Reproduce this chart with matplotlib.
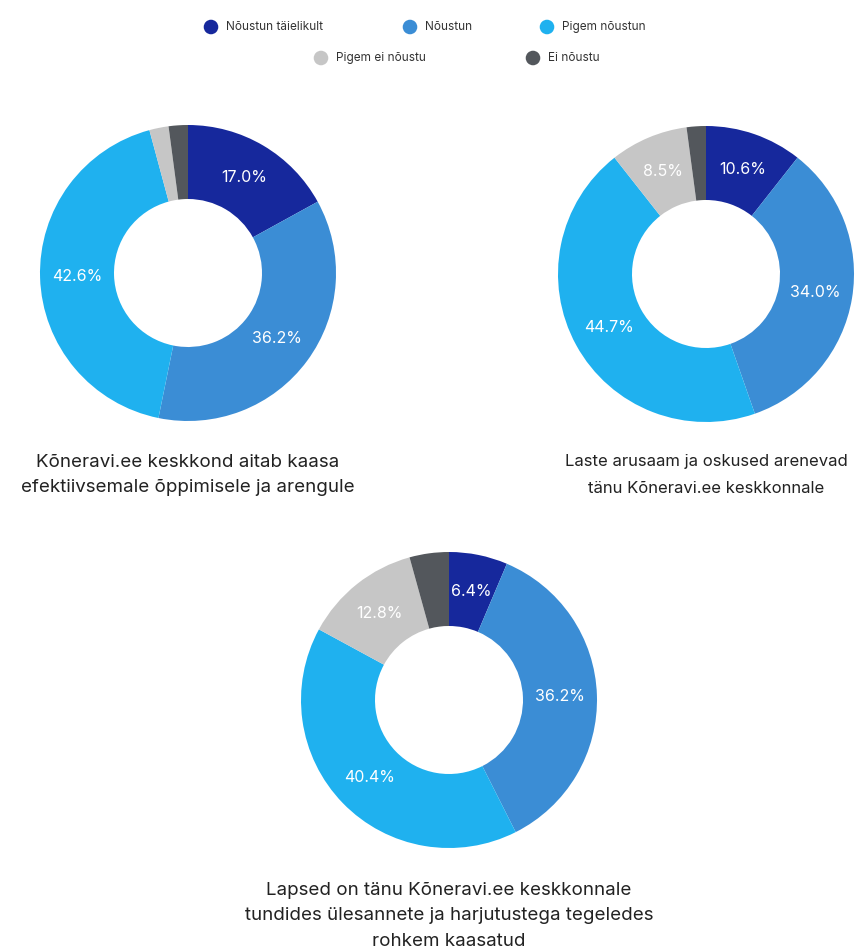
import matplotlib
matplotlib.use("Agg")
import matplotlib.pyplot as plt
import numpy as np

plt.rcParams['font.family'] = ['Inter', 'DejaVu Sans']

categories = ["Nõustun täielikult", "Nõustun", "Pigem nõustun", "Pigem ei nõustu", "Ei nõustu"]
colors = ["#16289c", "#3b8dd5", "#1fb1ef", "#c6c6c6", "#53575c"]

chart1_values = [17.0, 36.2, 42.6, 2.1, 2.1]
chart2_values = [10.6, 34.0, 44.7, 8.5, 2.1]
chart3_values = [6.4, 36.2, 40.4, 12.8, 4.3]

titles = [
    "Kõneravi.ee keskkond aitab kaasa\nefektiivsemale õppimisele ja arengule",
    "Laste arusaam ja oskused arenevad\ntänu Kõneravi.ee keskkonnale",
    "Lapsed on tänu Kõneravi.ee keskkonnale\ntundides ülesannete ja harjutustega tegeledes\nrohkem kaasatud",
]

W, H = 867, 952
fig = plt.figure(figsize=(W / 100, H / 100), dpi=100)

R = 148
centers = [(188, 273), (706, 274), (449, 700)]
title_cy = [475, 475, 916]
title_fs = [13.5, 12.0, 13.5]
all_values = [chart1_values, chart2_values, chart3_values]

for (cx, cy), vals, title, ty, fs in zip(centers, all_values, titles, title_cy, title_fs):
    ax = fig.add_axes([(cx - R) / W, 1 - (cy + R) / H, 2 * R / W, 2 * R / H])
    wedges, _ = ax.pie(vals, colors=colors, startangle=90, counterclock=False,
                       radius=1, wedgeprops=dict(width=0.5, edgecolor='none'))
    for w, v in zip(wedges, vals):
        if v >= 5:
            ang = np.deg2rad((w.theta1 + w.theta2) / 2)
            ax.text(0.75 * np.cos(ang), 0.75 * np.sin(ang), f"{v:.1f}%",
                    ha='center', va='center', color='white', fontsize=11.5)
    ax.set_xlim(-1, 1)
    ax.set_ylim(-1, 1)
    ax.set_aspect('equal')
    ax.axis('off')
    fig.text(cx / W, 1 - ty / H, title, ha='center', va='center', fontsize=fs,
             color='#222222', linespacing=1.7 * 14 / fs / 1.0 if fs < 13 else 1.65,
             multialignment='center')

# legend (manual placement of category markers + labels)
leg_x = [211, 410, 547, 321, 533]
leg_y = [27, 27, 27, 58, 58]
lax = fig.add_axes([0, 0, 1, 1], facecolor='none')
lax.set_xlim(0, W)
lax.set_ylim(H, 0)
lax.axis('off')
for cat, col, x, y in zip(categories, colors, leg_x, leg_y):
    lax.scatter([x], [y], s=110, color=col, edgecolors='none')
    lax.text(x + 15, y, cat, ha='left', va='center', fontsize=8.5, color='#333333')

fig.savefig("out.png", dpi=100, facecolor='white')
